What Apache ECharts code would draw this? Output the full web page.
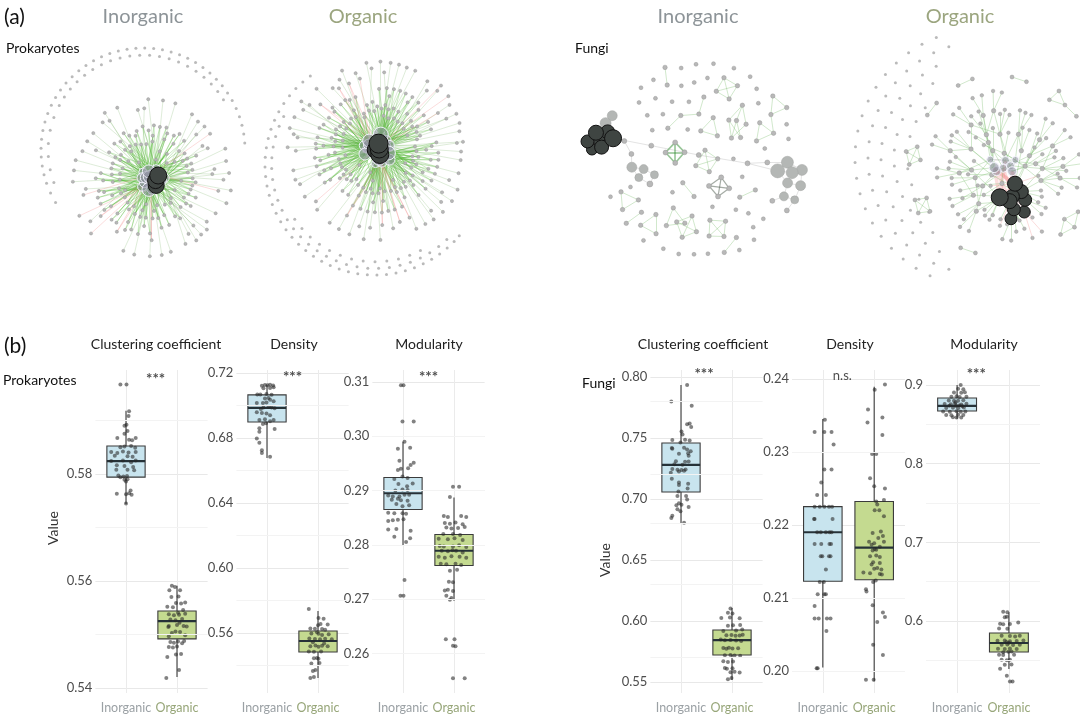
<!DOCTYPE html>
<html>
<head>
<meta charset="utf-8">
<title>Co-occurrence networks and network properties</title>
<script src="https://cdn.jsdelivr.net/npm/echarts@6.0.0/dist/echarts.min.js"></script>
<style>
  html, body { margin: 0; padding: 0; background: #fff; }
  #main { width: 1080px; height: 720px; }
</style>
</head>
<body>
<div id="main"></div>
<script>
const FONT = 'Lato, "Open Sans", sans-serif'
const groups = ['Inorganic', 'Organic']

// ---------------- (b) five-number summaries [min, Q1, median, Q3, max] ----------------
const prokClustBox = [[0.5744, 0.5794, 0.5824, 0.5852, 0.5918], [0.5421, 0.5492, 0.5525, 0.5544, 0.5591]]
const prokDensBox = [[0.6677, 0.6898, 0.6985, 0.7065, 0.7126], [0.5323, 0.5483, 0.5551, 0.5612, 0.5735]]
const prokModBox = [[0.2798, 0.2865, 0.2895, 0.2924, 0.2990], [0.2697, 0.2762, 0.2789, 0.2819, 0.2887]]
const fungiClustBox = [[0.6803, 0.7057, 0.7279, 0.7459, 0.7934], [0.5516, 0.5721, 0.5844, 0.5926, 0.6107]]
const fungiDensBox = [[0.2005, 0.2123, 0.2190, 0.2225, 0.2345], [0.1986, 0.2125, 0.2169, 0.2232, 0.2389]]
const fungiModBox = [[0.857, 0.8670, 0.8733, 0.8835, 0.900], [0.539, 0.5606, 0.5721, 0.5848, 0.611]]

// jittered replicate values: [jitter, value]
const prokClustInorg = [[-0.11,0.5967],[0.01,0.5967],[0.06,0.5917],[0.05,0.5908],[0.01,0.5892],[-0.03,0.589],[-0.03,0.5875],[0.03,0.588],[-0.17,0.5867],[0.06,0.5864],[0.12,0.5863],[0.19,0.5867],[-0.11,0.585],[-0.03,0.5851],[0.1,0.5852],[0.18,0.5849],[-0.29,0.5841],[-0.17,0.5839],[-0.06,0.5842],[0.05,0.584],[0.19,0.5841],[-0.22,0.5834],[0.03,0.5833],[0.13,0.5832],[-0.06,0.5825],[-0.29,0.5824],[0.1,0.5822],[0.19,0.5825],[-0.18,0.5816],[-0.03,0.5815],[0.14,0.5813],[-0.19,0.5808],[0.03,0.5808],[0.16,0.5807],[-0.15,0.5797],[-0.05,0.5795],[0.02,0.5796],[-0.11,0.5794],[-0.03,0.5789],[0,0.5786],[0.03,0.579],[-0.18,0.5763],[0,0.5762],[0.06,0.5764],[0.11,0.5761],[0.09,0.5769],[0,0.5745]]
const prokClustOrg = [[-0.1,0.5591],[-0.04,0.5589],[-0.15,0.5583],[0.06,0.5583],[-0.11,0.557],[0.03,0.5571],[-0.02,0.5559],[0.08,0.5558],[0.16,0.556],[-0.19,0.5552],[-0.16,0.5538],[-0.06,0.5536],[0.04,0.5537],[0.16,0.5539],[0.02,0.5541],[-0.13,0.5528],[-0.03,0.5527],[0.1,0.5529],[-0.16,0.5516],[-0.17,0.5514],[0,0.5518],[0.13,0.5516],[0.19,0.5515],[-0.03,0.5506],[0.06,0.5505],[-0.1,0.5503],[0.16,0.5499],[-0.16,0.5497],[-0.13,0.5486],[-0.06,0.5485],[0.02,0.5487],[0.1,0.5484],[0.14,0.5488],[-0.16,0.5477],[-0.08,0.5476],[0,0.5478],[0.08,0.5464],[-0.02,0.5463],[-0.19,0.5458],[0.04,0.5434],[-0.21,0.5419],[0.12,0.5546],[-0.08,0.5551],[0.05,0.5522]]
const prokDensInorg = [[-0.04,0.7126],[0.01,0.7124],[0.06,0.7127],[0.12,0.7122],[-0.1,0.7121],[-0.07,0.7105],[0.06,0.7108],[0.13,0.7112],[-0.19,0.7067],[-0.13,0.7068],[-0.01,0.707],[0.09,0.7065],[-0.04,0.7043],[0.06,0.7035],[0.13,0.7025],[-0.2,0.7015],[-0.08,0.7015],[-0.01,0.7018],[0.03,0.6991],[0.09,0.6988],[0.15,0.6982],[-0.07,0.6988],[-0.2,0.6958],[-0.1,0.6953],[-0.01,0.695],[0.06,0.694],[-0.15,0.6911],[-0.04,0.6915],[0.06,0.6902],[0.13,0.6911],[-0.02,0.689],[-0.08,0.6886],[-0.15,0.686],[-0.15,0.6838],[0.15,0.6855],[-0.2,0.6796],[-0.15,0.677],[-0.1,0.6725],[-0.1,0.6708],[0.06,0.6685],[0.03,0.7045],[-0.12,0.6978]]
const prokDensOrg = [[-0.18,0.5747],[0.01,0.5693],[0.11,0.5688],[0.19,0.5652],[0,0.5648],[-0.15,0.5628],[-0.06,0.5626],[0.08,0.5624],[0.14,0.562],[-0.13,0.5597],[0.01,0.5595],[0.21,0.5592],[0.08,0.5588],[-0.17,0.5566],[-0.06,0.5563],[0.04,0.5561],[0.14,0.5565],[0.27,0.5562],[-0.05,0.5523],[0.08,0.5521],[0.19,0.5518],[0.01,0.5515],[-0.15,0.5519],[-0.18,0.5487],[-0.08,0.5484],[0.06,0.5486],[-0.02,0.5447],[0.01,0.5441],[-0.08,0.5445],[0.03,0.5416],[-0.13,0.5412],[-0.05,0.5373],[-0.1,0.5366],[-0.08,0.533],[-0.15,0.5324],[-0.1,0.5543],[0.12,0.5535],[-0.02,0.5605],[0.05,0.5655]]
const prokModInorg = [[-0.04,0.3094],[0.01,0.3094],[-0.01,0.3027],[0.21,0.3027],[0.03,0.299],[-0.1,0.2977],[0.14,0.2979],[-0.07,0.2955],[0.21,0.2951],[0.15,0.2947],[-0.1,0.2938],[-0.04,0.294],[0.1,0.2941],[-0.17,0.2921],[0.09,0.2923],[-0.01,0.2926],[-0.09,0.2912],[0.08,0.2908],[0.19,0.2913],[-0.01,0.2902],[0.09,0.2901],[-0.15,0.29],[-0.29,0.2891],[-0.2,0.2889],[-0.07,0.2889],[0.12,0.2892],[0.03,0.2892],[-0.22,0.2883],[-0.04,0.2882],[0.09,0.2881],[-0.1,0.2885],[0.12,0.2873],[-0.01,0.2871],[-0.13,0.2875],[-0.29,0.2859],[-0.17,0.2858],[-0.01,0.2858],[0.06,0.2857],[-0.1,0.2846],[-0.2,0.2845],[-0.29,0.2844],[0.01,0.2847],[-0.13,0.2829],[0.15,0.2826],[-0.29,0.2828],[-0.17,0.2815],[0.14,0.2812],[0.06,0.2805],[0.03,0.2735],[-0.05,0.2706],[0.01,0.2706]]
const prokModOrg = [[-0.02,0.2907],[0.1,0.2907],[-0.08,0.2888],[-0.2,0.2853],[-0.12,0.2851],[0.14,0.2853],[0.24,0.2851],[-0.18,0.284],[-0.08,0.2839],[0.03,0.2841],[0.17,0.2838],[-0.15,0.2832],[-0.05,0.283],[0.08,0.2831],[0.21,0.2833],[-0.21,0.282],[-0.02,0.282],[0.12,0.2818],[-0.3,0.2811],[-0.12,0.281],[0.01,0.2812],[0.17,0.2809],[-0.28,0.2798],[-0.2,0.2797],[-0.02,0.2797],[0.1,0.2799],[0.24,0.2796],[-0.24,0.2789],[-0.12,0.2788],[0.04,0.2789],[0.17,0.2786],[-0.03,0.279],[-0.3,0.2778],[-0.18,0.2776],[-0.05,0.2779],[0.11,0.2778],[0.24,0.2776],[-0.26,0.2765],[-0.15,0.2764],[0.03,0.2765],[0.14,0.2763],[-0.08,0.2752],[0.06,0.2754],[-0.1,0.2732],[-0.02,0.2731],[-0.12,0.2717],[-0.02,0.2715],[-0.18,0.2716],[-0.15,0.2706],[-0.05,0.2702],[-0.08,0.2699],[-0.16,0.2626],[0.01,0.2626],[-0.02,0.2614],[0.03,0.2613],[-0.02,0.2554],[0.21,0.2554]]
const fungiClustInorg = [[0.12,0.7934],[-0.19,0.7798],[0.21,0.7765],[0.12,0.7612],[0.17,0.7618],[0.2,0.759],[0.01,0.7552],[0.03,0.7528],[-0.17,0.7483],[0.08,0.7485],[0.17,0.748],[-0.01,0.7462],[-0.18,0.7418],[-0.17,0.7412],[0.06,0.742],[0.12,0.7405],[0.19,0.7392],[-0.04,0.737],[0.15,0.7355],[0.14,0.7375],[-0.1,0.731],[0.08,0.7305],[0.15,0.7308],[-0.13,0.7285],[0.03,0.728],[-0.17,0.7245],[-0.07,0.724],[0.01,0.7238],[0.09,0.7242],[-0.2,0.7215],[-0.04,0.7225],[0.06,0.7232],[-0.18,0.7165],[-0.04,0.7135],[-0.04,0.7115],[0.14,0.7125],[0.13,0.7085],[-0.05,0.7062],[-0.07,0.7024],[0.1,0.7025],[0.12,0.6995],[-0.04,0.6965],[0.01,0.6952],[-0.09,0.6948],[0.15,0.6935],[-0.07,0.6915],[-0.01,0.69],[-0.17,0.6862],[-0.19,0.6845],[0.06,0.6805]]
const fungiClustOrg = [[-0.03,0.6103],[-0.08,0.6068],[0.01,0.6062],[-0.21,0.6024],[0.15,0.6022],[-0.04,0.6028],[0.16,0.5968],[-0.08,0.5962],[0.02,0.5965],[0.08,0.5922],[0.2,0.593],[-0.17,0.5918],[-0.11,0.5884],[-0.01,0.5886],[0.15,0.5882],[0.21,0.5888],[0.07,0.588],[-0.14,0.5843],[-0.03,0.5845],[0.08,0.584],[-0.22,0.5848],[0.18,0.5836],[-0.17,0.5778],[-0.06,0.578],[0.01,0.5775],[-0.11,0.5772],[0.12,0.5776],[-0.14,0.572],[-0.03,0.5722],[0.05,0.5718],[0.16,0.5715],[-0.17,0.5671],[0.02,0.5668],[-0.08,0.5665],[-0.14,0.5614],[0.01,0.5612],[-0.1,0.5608],[-0.03,0.5581],[0.15,0.5578],[0.05,0.5585],[-0.01,0.5532],[-0.08,0.5522]]
const fungiDensInorg = [[0.04,0.2344],[-0.16,0.2327],[0.03,0.2327],[0.17,0.2327],[0.21,0.231],[0.03,0.2276],[0.17,0.2276],[-0.03,0.2258],[-0.11,0.2241],[0.06,0.2241],[-0.16,0.2225],[-0.06,0.2225],[0.03,0.2225],[0.12,0.2225],[0.18,0.2225],[-0.17,0.2208],[-0.16,0.2208],[0.19,0.2208],[-0.11,0.219],[-0.04,0.219],[0.06,0.219],[0.13,0.219],[0.17,0.219],[-0.16,0.2174],[-0.03,0.2174],[0.13,0.2174],[0.16,0.2174],[-0.04,0.2157],[-0.01,0.2157],[0.12,0.2157],[0.15,0.2157],[0.06,0.2139],[-0.06,0.2122],[0.02,0.2122],[-0.1,0.2105],[0.03,0.2105],[0.06,0.2105],[-0.16,0.2089],[-0.16,0.2072],[-0.08,0.2072],[0.08,0.2072],[0.15,0.2072],[0.07,0.2055],[-0.12,0.2004],[-0.1,0.2004]]
const fungiDensOrg = [[0.21,0.2392],[0.01,0.2385],[-0.12,0.2358],[0.16,0.2347],[-0.13,0.234],[0.16,0.2323],[0.04,0.2297],[-0.04,0.2297],[-0.08,0.2264],[0,0.2253],[0.21,0.225],[0.19,0.2234],[0.04,0.2232],[0.06,0.2228],[0.01,0.222],[0.1,0.222],[0.19,0.2212],[-0.03,0.2189],[0.13,0.2191],[-0.1,0.2177],[0.17,0.2185],[0.08,0.2182],[0.19,0.2177],[0,0.2175],[-0.05,0.2173],[0.11,0.217],[0.01,0.2167],[0.04,0.2166],[-0.03,0.2165],[-0.08,0.2157],[0.11,0.2156],[0.04,0.2158],[-0.02,0.2149],[0.11,0.2148],[-0.05,0.2146],[0.06,0.2141],[0,0.214],[0.14,0.2139],[-0.21,0.2135],[-0.08,0.2134],[0.11,0.2133],[0.15,0.2132],[-0.16,0.2112],[-0.15,0.2109],[-0.02,0.2122],[0.03,0.2124],[-0.03,0.209],[0.17,0.208],[0.21,0.2074],[0.06,0.2067],[-0.02,0.2036],[0.17,0.2022],[-0.16,0.1988],[-0.01,0.1988]]
const fungiModInorg = [[0.07,0.9],[0.02,0.8952],[0.12,0.8945],[-0.06,0.8905],[0.08,0.8902],[0.15,0.8908],[-0.11,0.8851],[-0.01,0.8855],[0.05,0.8848],[0.18,0.885],[-0.16,0.8803],[-0.06,0.88],[0.02,0.8798],[0.12,0.8806],[-0.24,0.8759],[-0.12,0.8755],[-0.04,0.876],[0.08,0.8752],[0.18,0.8762],[-0.21,0.8708],[-0.08,0.871],[0.02,0.8705],[0.13,0.8712],[-0.27,0.8663],[-0.14,0.866],[-0.01,0.8665],[0.07,0.8658],[0.16,0.8662],[-0.21,0.8619],[-0.11,0.8615],[0.02,0.862],[0.12,0.8617],[-0.01,0.8585],[0.08,0.8588],[-0.08,0.859],[-0.02,0.8732],[0.1,0.8728],[-0.15,0.8735],[0.04,0.8738],[-0.03,0.878]]
const fungiModOrg = [[-0.11,0.6117],[-0.03,0.6112],[-0.04,0.6054],[-0.08,0.6048],[-0.17,0.5965],[0.02,0.5962],[-0.11,0.5958],[0.18,0.5982],[-0.03,0.5901],[-0.19,0.5905],[-0.14,0.5812],[0.02,0.581],[0.12,0.5805],[0.21,0.5815],[-0.22,0.5749],[-0.08,0.5752],[0.02,0.5745],[0.15,0.5748],[0.28,0.5752],[-0.14,0.5698],[-0.03,0.5701],[0.08,0.5695],[0.21,0.5699],[-0.21,0.5647],[-0.08,0.5645],[0.02,0.5652],[0.15,0.5644],[-0.01,0.5609],[0.05,0.5612],[-0.11,0.5605],[-0.19,0.5571],[-0.11,0.5568],[0.1,0.5572],[-0.14,0.5508],[0.02,0.551],[-0.04,0.5502],[-0.08,0.5444],[0.05,0.5448],[-0.17,0.5395],[-0.04,0.5304],[0.02,0.5232],[0.07,0.5232],[0,0.5725],[-0.05,0.5735]]

// y tick labels and minor grid values
const prokClustTicks = [0.54, 0.56, 0.58]
const prokClustMinor = [0.55, 0.57, 0.59]
const prokDensTicks = [0.56, 0.60, 0.64, 0.68, 0.72]
const prokDensMinor = [0.54, 0.58, 0.62, 0.66, 0.70]
const prokModTicks = [0.26, 0.27, 0.28, 0.29, 0.30, 0.31]
const prokModMinor = [0.255, 0.265, 0.275, 0.285, 0.295, 0.305]
const fungiClustTicks = [0.55, 0.60, 0.65, 0.70, 0.75, 0.80]
const fungiClustMinor = [0.575, 0.625, 0.675, 0.725, 0.775]
const fungiDensTicks = [0.20, 0.21, 0.22, 0.23, 0.24]
const fungiDensMinor = [0.205, 0.215, 0.225, 0.235]
const fungiModTicks = [0.6, 0.7, 0.8, 0.9]
const fungiModMinor = [0.55, 0.65, 0.75, 0.85]

// ---------------- (a) networks ----------------
// isolated nodes drawn round the prokaryote networks (angles in degrees)
const prokInorgRingOuter = [4,9,14,19,24,29,34,39,44,49,54,59,64,69,74,79,84,89,94,99,104,109,114,119,124,129,134,139,144,149,154,159,164,169,174,179,184,189,194,199,205,211]
const prokInorgRingInner = [32,38,44,50,56,62,68,74,80,86,92,98,104,110,116,122,128,134,140,146,152,160,168,176,184,192,200]
const prokOrgRingOuter = [126,131,136,141,146,151,156,161,166,171,176,181,186,191,196,201,206,211,216,221,226,231,236,241,246,251,256,261,266,271,276,281,286,291,296,301,306,311,316,320]
const prokOrgRingMiddle = [152,158,164,170,176,182,188,194,200,206,212,218,224,230,236,242,248,254,260,266,272,278,284,290,296,302,308,314]
const prokOrgRingInner = [214,221,228,235,242,249,256,263,270,277,284,291,298]
// isolated fungal nodes in the organic network, by row
const fungiOrgIsoRow1 = [112,119,126,133,140,147,154,161,168,175,182,189,196,203,210,217,224,231,238,245]
const fungiOrgIsoRow2 = [108,116,124,132,140,148,156,164,172,180,188,196,204,212,220,228,236,244,252]
const fungiOrgIsoRow3 = [118,127,136,145,154,163,172,181,190,199,208,217,226,235,244]
const fungiOrgIsoRow4 = [125,135,145,155,165,175,185,195,205,215,225,235]
const fungiOrgIsoRow5 = [140,152,164,176,188,200,212,224]

// hub sizes (the last ones are the dark keystone nodes) and leaf groups
// [hubA, hubB, count, kind]  kind: 2 inner, 3 middle, 1 outer (all positive), -1 negative
const prokInorgHubs = [14, 13, 12, 12, 11, 11, 10, 10, 10, 9, 9, 9, 8, 8, 8, 17, 16, 16]
const prokInorgLeaves = [[0,4,8,2],[1,5,8,3],[2,6,8,2],[3,7,8,3],[4,8,8,2],[5,9,8,3],[6,10,7,2],[7,11,7,3],[8,12,7,2],[9,13,7,3],[10,14,7,2],[11,0,6,3],[12,1,6,2],[13,2,6,2],[14,3,6,3],
  [0,-1,5,1],[2,-1,5,1],[4,-1,5,1],[6,-1,5,1],[8,-1,5,1],[10,-1,5,1],[12,-1,4,1],[14,-1,4,1],[15,-1,4,1],[16,-1,3,1],
  [3,9,3,-1],[5,-1,3,-1],[11,-1,2,-1]]
const prokOrgHubs = [15, 14, 13, 13, 12, 12, 11, 11, 11, 10, 10, 10, 9, 9, 9, 8, 8, 8, 19, 18, 18, 17]
const prokOrgLeaves = [[0,5,9,2],[1,6,9,3],[2,7,9,2],[3,8,9,3],[4,9,9,2],[5,10,9,3],[6,11,9,2],[7,12,8,3],[8,13,8,2],[9,14,8,3],[10,15,8,2],[11,16,8,3],[12,17,8,2],[13,0,7,3],[14,1,7,2],[15,2,7,3],[16,3,7,2],[17,4,7,3],
  [0,-1,6,1],[2,-1,6,1],[4,-1,6,1],[6,-1,6,1],[8,-1,6,1],[10,-1,5,1],[12,-1,5,1],[14,-1,5,1],[16,-1,5,1],[18,-1,4,1],[19,-1,4,1],
  [3,11,4,-1],[7,15,3,-1],[9,-1,3,-1],[13,-1,2,-1]]

// fungi, inorganic: node sizes and edge lists
const fungiInorgSizes = [
  17, 15, 14, 14, 13, 12, 11, 11, 10, 5, 5, 10, 9, 8, 8, 6, 5, 5, 5, 5,
  14, 12, 12, 11, 10, 10, 9, 8, 5, 5,
  5, 5, 5, 5, 5, 5, 5, 5,
  4.5, 4.5, 4.5, 4.5, 4.5, 4.5, 4.5, 4.5, 4.5, 4.5, 4.5, 4.5, 4.5, 4.5, 4.5, 4.5, 4.5, 4.5,
  4.5, 4.5, 4.5, 4.5, 4.5, 4.5, 4.5, 4.5, 4.5, 4.5, 4.5, 4.5, 4.5, 4.5, 4.5, 4.5, 4.5, 4.5,
  4.5, 4.5, 4.5, 4.5, 4.5, 4.5, 4.5, 4.5, 4.5, 4.5, 4.5, 4.5, 4.5, 4.5, 4.5, 4.5, 4.5, 4.5,
  4, 4, 4, 4, 4, 4, 4, 4, 4, 4, 4, 4, 4, 4, 4, 4, 4, 4, 4, 4,
  4, 4, 4, 4, 4, 4, 4, 4, 4, 4, 4, 4, 4, 4, 4, 4, 4, 4, 4, 4
]
const fungiInorgDark = [0, 1, 2, 3, 4, 5, 6]
const fungiInorgBig = [7, 8, 11, 12, 13, 14, 20, 21, 22, 23, 24, 25, 26, 27]
const fungiInorgCore = [[0,1],[0,2],[0,3],[1,2],[1,4],[2,3],[2,5],[3,4],[3,6],[4,5],[5,6],[0,5],[1,6],[7,0],[7,1],[8,7],[8,2],[2,9],[9,10],[10,11],[11,12],[11,13],[12,13],[12,14],[13,15],[14,15],[0,16],[16,17],[17,18],[18,20],[19,18],[19,21],[20,21],[20,22],[21,23],[22,23],[22,24],[23,25],[24,25],[24,26],[25,27],[26,27],[20,24],[27,28],[26,29]]
const fungiInorgMotifA = [[30,31],[30,32],[30,33],[31,32],[31,33],[32,33]]
const fungiInorgMotifB = [[34,35],[34,36],[34,37],[35,36],[35,37],[36,37]]
const fungiInorgSmall = [[38,39],[39,40],[40,38],[41,42],[42,43],[43,41],[44,45],[45,46],[46,44],[47,48],[48,49],[49,47],
  [50,51],[50,52],[50,53],[51,52],[51,53],[52,53],[54,55],[54,56],[54,57],[55,56],[55,57],[56,57],
  [58,59],[58,60],[58,61],[59,60],[59,61],[60,61],[62,63],[62,64],[62,65],[63,64],[63,65],[64,65],
  [66,67],[68,69],[70,71],[72,73],[74,75],[76,77],[77,78],[78,79],
  [80,81],[81,82],[82,83],[83,84],[84,85],[85,80],[81,84],[80,83],
  [86,87],[87,88],[88,86],[88,89],[89,90],[90,91],[91,89]]

// fungi, organic: hubs (0-7 grey, 8-16 dark), connectors (17-46), small components (47-70)
const fungiOrgSizes = [
  10, 9, 9, 8, 8, 8, 7, 7,
  17, 15, 15, 14, 14, 13, 13, 12, 12,
  4.5, 4.5, 4.5, 4.5, 4.5, 4.5, 4.5, 4.5, 4.5, 4.5, 4.5, 4.5, 4.5, 4.5, 4.5,
  4.5, 4.5, 4.5, 4.5, 4.5, 4.5, 4.5, 4.5, 4.5, 4.5, 4.5, 4.5, 4.5, 4.5, 4.5,
  4, 4, 4, 4, 4, 4, 4, 4, 4, 4, 4, 4, 4, 4, 4, 4, 4, 4, 4, 4, 4, 4, 4, 4
]
const fungiOrgGreyMesh = [[0,1],[0,2],[1,3],[2,3],[2,4],[3,5],[4,5],[4,6],[5,7],[6,7],[0,6],[1,7]]
const fungiOrgDarkMesh = [[8,9],[8,10],[9,11],[10,11],[10,12],[11,13],[12,13],[12,14],[13,15],[14,15],[14,16],[15,16],[8,16],[9,14],[8,12],[11,15]]
const fungiOrgNegative = [[0,8],[1,9],[2,10],[0,11],[3,12],[1,13],[4,8],[2,14]]
const fungiOrgConnect = [[0,8],[1,9],[2,0],[3,10],[4,1],[5,11],[6,2],[7,12],[0,3],[1,4],[2,5],[3,6],[4,7],[5,0],[6,17],[7,18],[17,19],[18,20],[19,21],[20,22],[21,23],[22,24],[23,25],[24,26],[8,27],[9,28],[10,29],[11,30],[12,31],[13,32]]
const fungiOrgSmall = [[47,48],[47,49],[47,50],[48,49],[48,50],[49,50],[51,52],[52,53],[53,51],[53,54],[55,56],[55,57],[55,58],[56,57],[56,58],[57,58],[59,60],[60,61],[61,62],[62,59],[59,61],[63,64],[65,66],[67,68],[69,70]]
// leaf groups [target, count, sign]
const fungiOrgLeaves = [[17,3,1],[18,2,1],[19,3,1],[20,2,1],[21,3,1],[22,2,1],[23,2,1],[24,3,1],[25,2,1],[26,2,1],[27,2,1],[28,2,1],[29,3,1],[30,2,1],[31,2,1],[32,2,1],[33,2,1],[34,2,1],[35,2,1],[36,2,1],[37,2,1],[38,2,1],[39,2,1],[40,2,1],[8,4,1],[9,3,1],[10,3,-1],[11,3,1],[12,2,-1],[13,2,1],[14,2,1],[15,2,-1],[16,2,1],[41,2,1],[42,2,1],[43,2,1],[44,2,1],[45,2,1],[46,2,1]]

// ---------------- styles ----------------
const nodeStyles = {
  leaf: { color: '#b8b8b8', borderColor: '#8f8f8f', borderWidth: 0.4 },
  hub: { color: 'rgba(140,142,158,0.55)', borderColor: 'rgba(245,245,255,0.95)', borderWidth: 1 },
  big: { color: '#b4b7b5', borderColor: '#a2a5a3', borderWidth: 0.5 },
  dark: { color: '#3f4542', borderColor: '#121212', borderWidth: 1 }
}
const linkStyles = {
  green: { color: 'rgba(110,170,90,0.65)', width: 0.7 },
  greenMid: { color: 'rgba(76,180,46,0.72)', width: 0.8 },
  greenIn: { color: 'rgba(76,180,46,0.78)', width: 0.9 },
  red: { color: 'rgba(238,120,120,0.65)', width: 0.8 },
  core: { color: 'rgba(232,232,244,0.75)', width: 0.7 },
  grey: { color: 'rgba(185,185,185,0.9)', width: 0.9 },
  motif: { color: '#2e8b2e', width: 1.6 },
  dark: { color: '#4b5a4b', width: 1.2 },
  light: { color: 'rgba(110,182,95,0.8)', width: 0.8 },
  redThick: { color: 'rgba(240,130,130,0.55)', width: 3.5 }
}
// larger weight gives a shorter edge in the force layout
const linkWeight = { core: 7, grey: 10, redThick: 3, greenIn: 5, greenMid: 3, motif: 6, dark: 6, light: 5, green: 1, red: 1 }

function hairball(hubs, darkFrom, leaves) {
  const sizes = [], kinds = [], links = []
  hubs.forEach(function(s, i) {
    sizes.push(s)
    kinds.push(i >= darkFrom ? 'dark' : 'hub')
  })
  for (let i = 0; i < hubs.length; i++)
    for (let j = i + 1; j < hubs.length; j++) links.push([i, j, 'core'])
  leaves.forEach(function(g) {
    for (let k = 0; k < g[2]; k++) {
      const id = sizes.length
      sizes.push(3.2)
      kinds.push('leaf')
      const t = g[3] < 0 ? 'red' : g[3] === 2 ? 'greenIn' : g[3] === 3 ? 'greenMid' : 'green'
      links.push([id, g[0], t])
      if (g[1] >= 0) links.push([id, g[1], t])
    }
  })
  return { sizes: sizes, kinds: kinds, links: links }
}

function tag(list, t) {
  return list.map(function(l) { return [l[0], l[1], t] })
}

function fungiInorgNet() {
  const kinds = fungiInorgSizes.map(function() { return 'leaf' })
  fungiInorgDark.forEach(function(i) { kinds[i] = 'dark' })
  fungiInorgBig.forEach(function(i) { kinds[i] = 'big' })
  const links = [].concat(tag(fungiInorgCore, 'grey'), tag(fungiInorgMotifA, 'motif'),
    tag(fungiInorgMotifB, 'dark'), tag(fungiInorgSmall, 'light'))
  return { sizes: fungiInorgSizes.slice(), kinds: kinds, links: links }
}

function fungiOrgNet() {
  const sizes = fungiOrgSizes.slice()
  const kinds = sizes.map(function(s, i) { return i < 8 ? 'hub' : i < 17 ? 'dark' : 'leaf' })
  const links = [].concat(tag(fungiOrgGreyMesh, 'grey'), tag(fungiOrgDarkMesh, 'grey'),
    tag(fungiOrgNegative, 'redThick'), tag(fungiOrgSmall, 'light'))
  fungiOrgConnect.forEach(function(t, k) {
    links.push([17 + k, t[0], 'light'])
    links.push([17 + k, t[1], 'light'])
  })
  fungiOrgLeaves.forEach(function(g) {
    for (let k = 0; k < g[1]; k++) {
      const id = sizes.length
      sizes.push(3.6)
      kinds.push('leaf')
      links.push([id, g[0], g[2] < 0 ? 'red' : 'light'])
    }
  })
  return { sizes: sizes, kinds: kinds, links: links }
}

function graphSeries(net, box, force) {
  // small nodes first so the big keystone nodes are painted on top
  const order = net.sizes.map(function(s, i) { return i })
    .sort(function(a, b) { return net.sizes[a] - net.sizes[b] || a - b })
  return {
    type: 'graph',
    layout: 'force',
    left: box[0], top: box[1], width: box[2], height: box[3],
    roam: false,
    silent: true,
    label: { show: false },
    emphasis: { disabled: true },
    force: Object.assign({ layoutAnimation: false, friction: 0.6 }, force),
    data: order.map(function(id) {
      return { name: 'n' + id, value: net.sizes[id], symbolSize: net.sizes[id], itemStyle: nodeStyles[net.kinds[id]] }
    }),
    links: net.links.map(function(l) {
      return { source: 'n' + l[0], target: 'n' + l[1], value: linkWeight[l[2]], lineStyle: linkStyles[l[2]] }
    })
  }
}

function ringSeries(polarIndex, rows) {
  const data = []
  rows.forEach(function(row) {
    row[1].forEach(function(a) { data.push([row[0], a]) })
  })
  return {
    type: 'scatter', coordinateSystem: 'polar', polarIndex: polarIndex,
    symbolSize: 3, silent: true, itemStyle: { color: '#a9a9a9' }, data: data
  }
}

// ---------------- (b) panel layout ----------------
const panels = [
  { title: 'Clustering coefficient', box: prokClustBox, pts: [prokClustInorg, prokClustOrg], ticks: prokClustTicks, minor: prokClustMinor, range: [0.5391, 0.5994], digits: 2, sig: '***', sigAt: [0.58, 0.5976], left: 95.4, width: 112.2 },
  { title: 'Density', box: prokDensBox, pts: [prokDensInorg, prokDensOrg], ticks: prokDensTicks, minor: prokDensMinor, range: [0.5231, 0.7218], digits: 2, sig: '***', sigAt: [0.5, 0.7175], left: 236.4, width: 112.2 },
  { title: 'Modularity', box: prokModBox, pts: [prokModInorg, prokModOrg], ticks: prokModTicks, minor: prokModMinor, range: [0.2527, 0.3122], digits: 2, sig: '***', sigAt: [0.5, 0.3109], left: 372.4, width: 112.2 },
  { title: 'Clustering coefficient', box: fungiClustBox, pts: [fungiClustInorg, fungiClustOrg], ticks: fungiClustTicks, minor: fungiClustMinor, range: [0.541, 0.8057], digits: 2, sig: '***', sigAt: [0.45, 0.8025], left: 650.4, width: 112.2 },
  { title: 'Density', box: fungiDensBox, pts: [fungiDensInorg, fungiDensOrg], ticks: fungiDensTicks, minor: fungiDensMinor, range: [0.197, 0.2412], digits: 2, sig: 'n.s.', sigAt: [0.38, 0.2404], left: 792, width: 113 },
  { title: 'Modularity', box: fungiModBox, pts: [fungiModInorg, fungiModOrg], ticks: fungiModTicks, minor: fungiModMinor, range: [0.5086, 0.919], digits: 1, sig: '***', sigAt: [0.37, 0.914], left: 926, width: 114 }
]
const titleX = [156, 294, 429, 703, 850, 984]
const boxFill = ['#c8e4ee', '#c4da90']

function renderBox(params, api) {
  const x = api.value(0)
  const lo = api.coord([x, api.value(1)])
  const q1 = api.coord([x, api.value(2)])
  const md = api.coord([x, api.value(3)])
  const q3 = api.coord([x, api.value(4)])
  const hi = api.coord([x, api.value(5)])
  const w = api.size([0.75, 0])[0]
  return {
    type: 'group',
    children: [
      { type: 'line', shape: { x1: lo[0], y1: lo[1], x2: hi[0], y2: hi[1] }, style: { stroke: '#3b3b3b', lineWidth: 1.1 } },
      { type: 'rect', shape: { x: q3[0] - w / 2, y: q3[1], width: w, height: q1[1] - q3[1] }, style: { fill: boxFill[params.dataIndex], stroke: '#3b3b3b', lineWidth: 1.1 } },
      { type: 'line', shape: { x1: md[0] - w / 2, y1: md[1], x2: md[0] + w / 2, y2: md[1] }, style: { stroke: '#263238', lineWidth: 2.2 } }
    ]
  }
}

const grids = [], xAxes = [], yAxes = [], series = []
panels.forEach(function(p, i) {
  grids.push({ left: p.left, top: 370, width: p.width, height: 323, outerBoundsMode: 'none' })
  xAxes.push({
    gridIndex: i, type: 'value', min: -0.6, max: 1.6,
    axisLine: { show: false },
    axisTick: { show: false, customValues: [0, 1] },
    axisLabel: {
      customValues: [0, 1], margin: 8,
      formatter: function(v) { return v < 0.5 ? '{a|' + groups[0] + '}' : '{b|' + groups[1] + '}' },
      rich: {
        a: { color: '#9ba1a5', fontSize: 12.5, fontFamily: FONT },
        b: { color: '#97a679', fontSize: 12.5, fontFamily: FONT }
      }
    },
    splitLine: { show: true, lineStyle: { color: '#ebebeb', width: 1 } }
  })
  yAxes.push({
    gridIndex: i, type: 'value', min: p.range[0], max: p.range[1],
    axisLine: { show: false },
    axisTick: { show: false, customValues: p.ticks },
    axisLabel: {
      customValues: p.ticks, margin: 3, color: '#4d4d4d', fontSize: 13, fontFamily: FONT,
      formatter: function(v) { return v.toFixed(p.digits) }
    },
    splitLine: { show: true, lineStyle: { color: '#e8e8e8', width: 1 } }
  })
  // faint minor grid
  series.push({
    type: 'scatter', xAxisIndex: i, yAxisIndex: i, data: [], silent: true, z: 1,
    markLine: {
      silent: true, symbol: ['none', 'none'], label: { show: false },
      lineStyle: { color: '#f3f3f3', type: 'solid', width: 1 },
      data: p.minor.map(function(v) { return { yAxis: v } })
    }
  })
  series.push({
    type: 'custom', xAxisIndex: i, yAxisIndex: i, z: 2, silent: true,
    renderItem: renderBox,
    encode: { x: 0, y: [1, 2, 3, 4, 5] },
    data: p.box.map(function(b, g) { return [g].concat(b) })
  })
  series.push({
    type: 'scatter', xAxisIndex: i, yAxisIndex: i, z: 3, silent: true,
    symbolSize: 4, itemStyle: { color: 'rgba(38,38,38,0.72)' },
    data: p.pts[0].map(function(d) { return [d[0], d[1]] })
      .concat(p.pts[1].map(function(d) { return [1 + d[0], d[1]] }))
  })
  series.push({
    type: 'scatter', xAxisIndex: i, yAxisIndex: i, z: 4, silent: true,
    symbolSize: 1, itemStyle: { color: 'rgba(0,0,0,0)' },
    label: {
      show: true, position: 'inside', formatter: p.sig, color: '#222',
      fontSize: p.sig === '***' ? 15 : 13, fontWeight: p.sig === '***' ? 'bold' : 'normal', fontFamily: FONT
    },
    data: [p.sigAt]
  })
})

// networks
series.push(ringSeries(0, [[100, prokInorgRingOuter], [93, prokInorgRingInner]]))
series.push(ringSeries(1, [[100, prokOrgRingOuter], [94, prokOrgRingMiddle], [88, prokOrgRingInner]]))
series.push(ringSeries(2, [[100, fungiOrgIsoRow1], [90, fungiOrgIsoRow2], [80, fungiOrgIsoRow3], [70, fungiOrgIsoRow4], [60, fungiOrgIsoRow5]]))
series.push(graphSeries(hairball(prokInorgHubs, 15, prokInorgLeaves), [98, 128, 100, 100],
  { repulsion: [5, 15], gravity: 0.12, edgeLength: [5, 50] }))
series.push(graphSeries(hairball(prokOrgHubs, 18, prokOrgLeaves), [328, 100, 100, 100],
  { repulsion: [5, 15], gravity: 0.12, edgeLength: [5, 52] }))
series.push(graphSeries(fungiInorgNet(), [620, 80, 160, 160],
  { repulsion: [6, 13], gravity: 0.15, edgeLength: [8, 18] }))
series.push(graphSeries(fungiOrgNet(), [950, 115, 100, 100],
  { repulsion: [4, 10], gravity: 0.15, edgeLength: [6, 22] }))

const polarHidden = { axisLine: { show: false }, axisTick: { show: false }, axisLabel: { show: false }, splitLine: { show: false } }
const angleAxes = [0, 1, 2].map(function(k) {
  return Object.assign({ polarIndex: k, type: 'value', min: 0, max: 360, startAngle: 0, clockwise: false }, polarHidden)
})
const radiusAxes = [0, 1, 2].map(function(k) {
  return Object.assign({ polarIndex: k, type: 'value', min: 0, max: 100 }, polarHidden)
})

function txt(text, x, y, size, color, align, extra) {
  return Object.assign({
    type: 'text', x: x, y: y, silent: true,
    style: { text: text, fontSize: size, fontFamily: FONT, fill: color, align: align || 'center', verticalAlign: 'middle' }
  }, extra || {})
}
const texts = [
  txt('(a)', 4, 17, 21, '#111', 'left'),
  txt(groups[0], 143, 17, 20, '#8d9498'),
  txt(groups[1], 363, 17, 20, '#9ba57f'),
  txt(groups[0], 698, 17, 20, '#8d9498'),
  txt(groups[1], 960, 17, 20, '#9ba57f'),
  txt('Prokaryotes', 6, 48, 14, '#111', 'left'),
  txt('Fungi', 575, 48, 14, '#111', 'left'),
  txt('(b)', 4, 346, 21, '#111', 'left'),
  txt('Prokaryotes', 3, 380, 14, '#111', 'left'),
  txt('Fungi', 582, 383, 14, '#111', 'left'),
  txt('Value', 53, 528, 14, '#333', 'center', { rotation: Math.PI / 2 }),
  txt('Value', 605, 560, 14, '#333', 'center', { rotation: Math.PI / 2 })
]
panels.forEach(function(p, i) { texts.push(txt(p.title, titleX[i], 344, 14, '#222')) })

const chart = echarts.init(document.getElementById('main'))
chart.setOption({
  animation: false,
  backgroundColor: '#fff',
  grid: grids,
  xAxis: xAxes,
  yAxis: yAxes,
  polar: [
    { center: [143, 150], radius: 102 },
    { center: [375, 165], radius: 110 },
    { center: [985, 158], radius: 130 }
  ],
  angleAxis: angleAxes,
  radiusAxis: radiusAxes,
  graphic: texts,
  series: series
})
</script>
</body>
</html>
